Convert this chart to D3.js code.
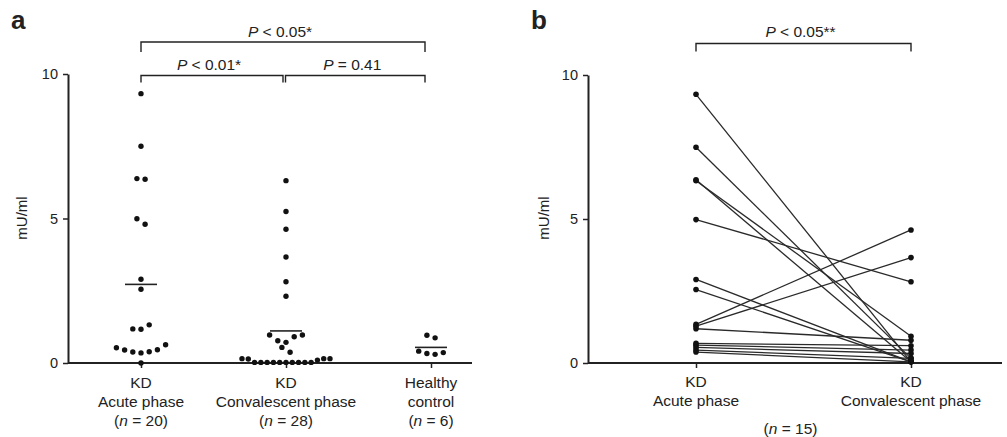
<!DOCTYPE html>
<html><head><meta charset="utf-8">
<script src="https://cdn.jsdelivr.net/npm/d3@7"></script>
<style>
body{margin:0;background:#fff}
svg{display:block}
text{font-family:"Liberation Sans",Arial,Helvetica,sans-serif;fill:#222}
</style>
</head><body>
<svg id="chart" width="1007" height="437"></svg>
<script>
// ---------- data ----------
const groupsA = ["acute", "conv", "healthy"];
const groupLine1A = ["KD", "KD", "Healthy"];
const groupLine2A = ["Acute phase", "Convalescent phase", "control"];
const groupNA = ["20", "28", "6"];
const acuteA = [9.32, 7.5, 6.36, 6.38, 4.99, 4.8, 2.9, 2.55, 1.32, 1.17, 1.18,
                0.53, 0.45, 0.38, 0.35, 0.39, 0.46, 0.63, 0];
const convA = [6.31, 5.24, 4.63, 3.67, 2.81, 2.31,
               0.97, 0.91, 0.97, 0.77, 0.715, 0.54, 0.37,
               0.15, 0.14, 0.1, 0.02, 0.02, 0.02, 0.02, 0.02, 0.02, 0.02, 0.02, 0.02, 0.02, 0.15, 0.15];
const healthyA = [0.96, 0.87, 0.36, 0.30, 0.33, 0.41];
const mediansA = [2.72, 1.11, 0.54];
const yTicks = [0, 5, 10];
const bracketFromA = ["acute", "acute", "conv"];
const bracketToA = ["healthy", "conv", "healthy"];
const bracketLevelA = [0, 1, 1];
const bracketOpA = ["<", "<", "="];
const bracketValA = ["0.05*", "0.01*", "0.41"];

const groupsB = ["acute", "conv"];
const groupLine1B = ["KD", "KD"];
const groupLine2B = ["Acute phase", "Convalescent phase"];
const nB = "15";
const pairAcuteB = [9.33, 7.49, 6.36, 6.33, 4.98, 2.9, 2.55, 1.34, 1.28, 1.19, 0.68, 0.62, 0.54, 0.45, 0.38];
const pairConvB  = [0.04, 0.16, 0.04, 0.93, 2.82, 0.04, 0.04, 4.62, 3.66, 0.79, 0.6, 0.45, 0.33, 0.16, 0.04];
const bracketValB = "0.05**";

// ---------- drawing ----------
const svg = d3.select("#chart");
const ink = "#222";

function swarm(values, cx, y) {
  const sorted = values.slice().sort((a, b) => a - b);
  const groups = []; let g = null;
  sorted.forEach(v => {
    if (!g || v - g[g.length - 1] > 0.2 || v - g[0] > 0.3) { g = []; groups.push(g); }
    g.push(v);
  });
  const out = [];
  groups.forEach(g => {
    const n = g.length;
    const s = Math.min(8.2, 88 / Math.max(1, n - 1));
    g.forEach((v, k) => {
      let off;
      if (n % 2) { const m = Math.ceil(k / 2); off = k === 0 ? 0 : (k % 2 ? -m : m); }
      else { const m = Math.floor(k / 2) + 0.5; off = k % 2 ? -m : m; }
      out.push({ x: cx + off * s, y: y(v) });
    });
  });
  return out;
}

function yAxis(g, y, x0) {
  const ax = g.append("g").attr("transform", `translate(${x0},0)`)
    .call(d3.axisLeft(y).tickValues(yTicks).tickSize(5).tickSizeOuter(0).tickPadding(5));
  ax.select(".domain").attr("stroke", ink).attr("stroke-width", 2);
  ax.selectAll(".tick line").attr("stroke", ink).attr("stroke-width", 1.5);
  ax.selectAll(".tick text").attr("font-size", 14.5).attr("fill", ink)
    .style("font-family", '"Liberation Sans",Arial,sans-serif');
}

function xAxis(g, x, y0, xStart, xEnd) {
  g.append("line").attr("x1", xStart).attr("x2", xEnd).attr("y1", y0).attr("y2", y0)
    .attr("stroke", ink).attr("stroke-width", 2);
  const ax = g.append("g").attr("transform", `translate(0,${y0})`)
    .call(d3.axisBottom(x).tickSize(5).tickFormat(""));
  ax.select(".domain").remove();
  ax.selectAll(".tick line").attr("stroke", ink).attr("stroke-width", 1.5);
}

function pLabel(g, cx, baseline, op, val) {
  const t = g.append("text").attr("x", cx).attr("y", baseline)
    .attr("text-anchor", "middle").attr("font-size", 15.5);
  t.append("tspan").attr("font-style", "italic").text("P");
  t.append("tspan").text(" " + op + " " + val);
}

function bracket(g, x1, x2, yb, drop) {
  g.append("path").attr("d", `M${x1},${yb + drop}V${yb}H${x2}V${yb + drop}`)
    .attr("fill", "none").attr("stroke", ink).attr("stroke-width", 1.4);
}

function nLabel(g, cx, baseline, n) {
  const t = g.append("text").attr("x", cx).attr("y", baseline)
    .attr("text-anchor", "middle").attr("font-size", 15.5);
  t.append("tspan").text("(");
  t.append("tspan").attr("font-style", "italic").text("n");
  t.append("tspan").text(" = " + n + ")");
}

// ----- panel a -----
const gA = svg.append("g");
const xA = d3.scalePoint().domain(groupsA).range([141, 431]);
const yA = d3.scaleLinear().domain([0, 10]).range([363, 74]);

gA.append("text").attr("x", 11).attr("y", 29).attr("font-size", 26)
  .attr("font-weight", "bold").style("font-family", '"Liberation Sans",Arial,sans-serif').text("a");
gA.append("text").attr("transform", "translate(27,218) rotate(-90)")
  .attr("text-anchor", "middle").attr("font-size", 15).text("mU/ml");

xAxis(gA, xA, 363, 68, 472);
yAxis(gA, yA, 68);

const dataA = [acuteA, convA, healthyA];
groupsA.forEach((grp, i) => {
  const pts = swarm(dataA[i], xA(grp), yA);
  gA.append("g").selectAll("circle").data(pts).join("circle")
    .attr("cx", d => d.x).attr("cy", d => d.y).attr("r", 2.7).attr("fill", "#111");
  gA.append("line").attr("x1", xA(grp) - 16).attr("x2", xA(grp) + 16)
    .attr("y1", yA(mediansA[i])).attr("y2", yA(mediansA[i]))
    .attr("stroke", ink).attr("stroke-width", 1.6);
  gA.append("text").attr("x", xA(grp)).attr("y", 388).attr("text-anchor", "middle")
    .attr("font-size", 15.5).text(groupLine1A[i]);
  gA.append("text").attr("x", xA(grp)).attr("y", 407).attr("text-anchor", "middle")
    .attr("font-size", 15.5).text(groupLine2A[i]);
  nLabel(gA, xA(grp), 426, groupNA[i]);
});

const levelY = [42, 75.5];
const levelDrop = [10, 7];
bracketFromA.forEach((f, i) => {
  const t = bracketToA[i];
  const x1 = xA(f) + (f === "conv" ? -0.5 : 0);
  const x2 = xA(t) + (t === "healthy" ? -6 : -3);
  const yb = levelY[bracketLevelA[i]];
  bracket(gA, x1, x2, yb, levelDrop[bracketLevelA[i]]);
  pLabel(gA, (x1 + x2) / 2 - 3, yb - 5.5, bracketOpA[i], bracketValA[i]);
});

// ----- panel b -----
const gB = svg.append("g");
const xB = d3.scalePoint().domain(groupsB).range([696, 911]);
const yB = d3.scaleLinear().domain([0, 10]).range([363, 75]);

gB.append("text").attr("x", 531).attr("y", 29).attr("font-size", 26)
  .attr("font-weight", "bold").style("font-family", '"Liberation Sans",Arial,sans-serif').text("b");
gB.append("text").attr("transform", "translate(549,218) rotate(-90)")
  .attr("text-anchor", "middle").attr("font-size", 15).text("mU/ml");

xAxis(gB, xB, 363, 588, 1002);
yAxis(gB, yB, 588);

const pairs = pairAcuteB.map((a, i) => ({ a, c: pairConvB[i] }));
gB.append("g").selectAll("line").data(pairs).join("line")
  .attr("x1", xB("acute")).attr("y1", d => yB(d.a))
  .attr("x2", xB("conv")).attr("y2", d => yB(d.c))
  .attr("stroke", "#2a2a2a").attr("stroke-width", 1.3);
gB.append("g").selectAll("circle").data(pairs).join("circle")
  .attr("cx", xB("acute")).attr("cy", d => yB(d.a)).attr("r", 2.8).attr("fill", "#111");
gB.append("g").selectAll("circle").data(pairs).join("circle")
  .attr("cx", xB("conv")).attr("cy", d => yB(d.c)).attr("r", 2.8).attr("fill", "#111");

groupsB.forEach((grp, i) => {
  gB.append("text").attr("x", xB(grp)).attr("y", 387).attr("text-anchor", "middle")
    .attr("font-size", 15.5).text(groupLine1B[i]);
  gB.append("text").attr("x", xB(grp)).attr("y", 406).attr("text-anchor", "middle")
    .attr("font-size", 15.5).text(groupLine2B[i]);
});
nLabel(gB, (xB("acute") + xB("conv")) / 2 - 13, 434, nB);

bracket(gB, xB("acute"), xB("conv"), 43.5, 8);
pLabel(gB, (xB("acute") + xB("conv")) / 2 - 3, 37, "<", bracketValB);
</script>
</body></html>
